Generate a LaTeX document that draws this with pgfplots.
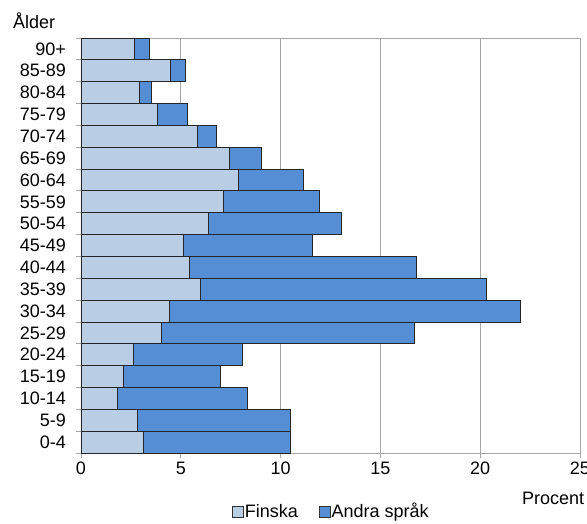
\documentclass[border=0pt]{standalone}
\usepackage{fontspec}
\setmainfont{Liberation Sans}
\usepackage{pgfplots}
\pgfplotsset{compat=1.18}
\definecolor{finska}{HTML}{B9CDE5}
\definecolor{andra}{HTML}{558ED5}
\definecolor{gridgray}{HTML}{A6A6A6}

\pgfplotstableread{
pos F A
0 3.15 7.35
1 2.83 7.65
2 1.80 6.54
3 2.12 4.85
4 2.61 5.50
5 4.04 12.67
6 4.43 17.57
7 5.99 14.31
8 5.45 11.37
9 5.14 6.44
10 6.40 6.66
11 7.15 4.80
12 7.87 3.28
13 7.44 1.59
14 5.84 0.92
15 3.84 1.49
16 2.93 0.58
17 4.46 0.76
18 2.66 0.75
}\agedata

\begin{document}
\fontsize{18}{21}\selectfont
\begin{tikzpicture}
\path[use as bounding box] (-81pt,-70pt) rectangle (506pt,453pt);
\begin{axis}[
    scale only axis,
    width=499pt, height=415pt,
    xbar stacked,
    bar width=1,
    xmin=0, xmax=25,
    ymin=-0.5, ymax=18.5,
    xtick={0,5,10,15,20,25},
    ytick={0,...,18},
    yticklabels={0-4,5-9,10-14,15-19,20-24,25-29,30-34,35-39,40-44,45-49,50-54,55-59,60-64,65-69,70-74,75-79,80-84,85-89,90+},
    minor ytick={-0.5,0.5,...,18.5},
    major y tick style={draw=none},
    xtick pos=bottom, ytick pos=left,
    tick align=outside,
    major tick length=5pt, minor tick length=5pt,
    tick style={gridgray, line width=0.8pt},
    axis line style={gridgray, line width=0.8pt},
    xmajorgrids,
    grid style={gridgray, line width=0.8pt},
    font=\fontsize{18}{21}\selectfont,
    /pgf/number format/assume math mode=true,
    yticklabel style={inner sep=0pt, xshift=-10pt},
    xticklabel style={inner sep=0pt, yshift=-4pt},
    legend style={at={(0.501,-0.142)}, anchor=center, draw=none, fill=none,
        legend columns=2, font=\fontsize{18}{21}\selectfont,
        /tikz/every even column/.append style={column sep=20pt},
        nodes={inner xsep=1pt, inner ysep=0pt}},
    legend image code/.code={\draw[#1, draw=black!80, line width=0.6pt] (0pt,-5.5pt) rectangle (11pt,5.5pt);},
]
\addplot[fill=finska, draw=black!85, line width=0.8pt] table[x=F, y=pos] {\agedata};
\addplot[fill=andra, draw=black!85, line width=0.8pt] table[x=A, y=pos] {\agedata};
\legend{Finska, Andra språk}
\end{axis}
\node[anchor=base west, inner sep=0pt] at (-68pt,424pt) {Ålder};
\node[anchor=base west, inner sep=0pt] at (441pt,-51.5pt) {Procent};
\end{tikzpicture}
\end{document}
